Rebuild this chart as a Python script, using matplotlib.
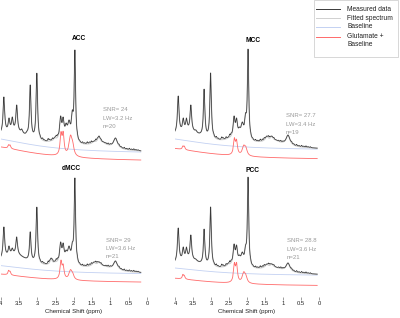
import numpy as np
import matplotlib
matplotlib.use("Agg")
import matplotlib.pyplot as plt
from matplotlib.lines import Line2D
from matplotlib.patches import Rectangle

plt.rcParams['font.family'] = ['Liberation Sans', 'DejaVu Sans']

# ---------------- data ----------------
regions = ["ACC", "MCC", "dMCC", "PCC"]
snr_text = ["SNR= 24", "SNR= 27.7", "SNR= 29", "SNR= 28.8"]
lw_text = ["LW=3.2 Hz", "LW=3.4 Hz", "LW=3.6 Hz", "LW=3.6 Hz"]
n_text = ["n=20", "n=19", "n=21", "n=21"]

# sharp peaks: position (ppm), half-width (ppm)
peak_ppm = [3.91, 3.77, 3.68, 3.56, 3.42, 3.28, 3.19, 3.01, 2.75, 2.62, 2.52,
            2.36, 2.29, 2.21, 2.13, 2.04, 1.97, 1.45, 1.31, 1.18, 0.86]
peak_hw = [0.026, 0.026, 0.026, 0.026, 0.03, 0.03, 0.024, 0.024, 0.035, 0.035, 0.035,
           0.03, 0.03, 0.035, 0.045, 0.03, 0.022, 0.05, 0.045, 0.045, 0.065]
# peak-top values (arbitrary intensity units)
acc_top = [68, 47, 48, 60, 36, 34, 80, 92, 23, 25, 28,
           49, 48, 42, 45, 55, 115, 24, 29, 23, 27]
mcc_top = [69, 47, 47, 60, 35, 33, 76, 92, 24, 26, 28,
           49, 47, 38, 43, 52, 116, 29, 29, 25, 30]
dmcc_top = [70, 51, 49, 60, 40, 38, 65, 90, 33, 39, 36,
            55, 54, 47, 51, 55, 119, 35, 35, 29, 36]
pcc_top = [69, 50, 50, 62, 38, 36, 68, 90, 30, 31, 34,
           53, 52, 42, 45, 52, 120, 33, 33, 28, 34]
meas_tops = [acc_top, mcc_top, dmcc_top, pcc_top]

# broad macromolecule humps
broad_ppm = [3.60, 2.30, 1.30]
broad_hw = [0.40, 0.35, 0.40]
acc_broad = [9, 6, 6]
mcc_broad = [9, 6, 6]
dmcc_broad = [12, 6, 6]
pcc_broad = [9, 6, 6]
broad_amps = [acc_broad, mcc_broad, dmcc_broad, pcc_broad]

# small ripples seen on the measured trace
ripple_ppm = [2.92, 2.85, 2.80, 2.70, 2.66, 2.58, 2.48, 2.44, 1.90, 1.84, 1.76,
              1.70, 1.63, 1.57, 1.52, 1.40, 1.36, 1.25, 1.12, 1.06, 1.00, 0.76,
              0.70, 0.62, 0.55, 0.48, 0.42, 0.36, 0.30, 0.24]
ripple_amp = [1.5, 2, 1, 2.5, 1.5, 2, 2.5, 2, 1.5, 1, 1.5,
              1, 2, 1.5, 2, 2, 1.5, 1.5, 1, 1.5, 1, 1.5,
              1, 1.5, 1, 1.5, 1, 1.5, 1, 1]
ripple_hw = 0.015

# glutamate peaks
glu_ppm = [3.78, 3.74, 2.35, 2.29, 2.09, 2.03]
glu_hw = [0.022, 0.022, 0.03, 0.03, 0.05, 0.04]
acc_glu = [3, 3, 20, 20, 19, 8]
mcc_glu = [3, 3, 15, 13, 9, 6]
dmcc_glu = [4, 3, 17, 12, 9, 4]
pcc_glu = [4, 3, 17, 17, 10, 5]
glu_amps = [acc_glu, mcc_glu, dmcc_glu, pcc_glu]

# baseline (offset, hump amplitude) per region; hump centre/width shared
base_offset = [11.2, 14.6, 22.4, 21.0]
base_hump = [16.5, 12.7, 10.0, 8.9]
base_centre = 4.5
base_width = 1.5
red_shift = [8.0, 9.5, 8.5, 10.3]   # vertical offset of Glu+baseline trace

legend_labels = ["Measured data", "Fitted spectrum", "Baseline", "Glutamate +\nBaseline"]
tick_vals = [4, 3.5, 3, 2.5, 2, 1.5, 1, 0.5, 0]
tick_labels = ["4", "3.5", "3", "2.5", "2", "1.5", "1", "0.5", "0"]

# ---------------- styling ----------------
C_MEAS = "#3a3a3a"
C_FIT = "#d0d0d0"
C_BASE = "#c3d1f2"
C_GLU = "#ff6a6a"
C_TXT = "#9a9a9a"

W, H = 400, 318
fig = plt.figure(figsize=(W / 100, H / 100), dpi=100)


def fx(x):
    return x / W


def fy(y):
    return 1 - y / H


def lorentz(x, p, h, w):
    return h / (1.0 + ((x - p) / w) ** 2)


def baseline(x, i):
    return base_offset[i] + lorentz(x, base_centre, base_hump[i], base_width)


def fixed_part(x, i, with_ripple=True):
    y = baseline(x, i)
    for p, h, w in zip(broad_ppm, broad_amps[i], broad_hw):
        y = y + lorentz(x, p, h, w)
    if with_ripple:
        for p, h in zip(ripple_ppm, ripple_amp):
            y = y + lorentz(x, p, h, ripple_hw)
    return y


def sharp_amplitudes(i):
    pp = np.array(peak_ppm)
    ww = np.array(peak_hw)
    M = 1.0 / (1.0 + ((pp[:, None] - pp[None, :]) / ww[None, :]) ** 2)
    rhs = np.array(meas_tops[i], float) - fixed_part(pp, i)
    a = np.linalg.solve(M, rhs)
    return np.clip(a, 0, None)


# axes placement in pixels: (left, top, right, bottom)
ax_px = [(0.6, 25, 147, 165), (175, 25, 319, 165),
         (0.6, 157, 147, 297), (175, 157, 319, 297)]
ppm_ranges = [(0.17, 3.99), (0.05, 4.07), (0.17, 3.99), (0.05, 4.07)]
title_px = [(79, 38), (252.7, 40), (71, 168), (252.7, 170)]
info_px = [(103, 110), (286, 116), (106, 240), (287, 241)]

for i, reg in enumerate(regions):
    l, t, r, b = ax_px[i]
    ax = fig.add_axes([fx(l), fy(b), (r - l) / W, (b - t) / H])
    lo, hi = ppm_ranges[i]
    x = np.linspace(lo, hi, 1200)
    base = baseline(x, i)
    amps = sharp_amplitudes(i)
    sharp = np.zeros_like(x)
    for p, h, w in zip(peak_ppm, amps, peak_hw):
        sharp = sharp + lorentz(x, p, h, w)
    meas = fixed_part(x, i, True) + sharp
    fit = fixed_part(x, i, False) + sharp
    glu = base - red_shift[i]
    for p, h, w in zip(glu_ppm, glu_amps[i], glu_hw):
        glu = glu + lorentz(x, p, h, w)

    ax.plot(x, base, color=C_BASE, lw=0.6)
    ax.plot(x, fit, color=C_FIT, lw=0.9)
    ax.plot(x, meas, color=C_MEAS, lw=0.55)
    ax.plot(x, glu, color=C_GLU, lw=0.6)
    ax.set_xlim(4, 0)
    ax.set_ylim(0, 140)
    for s in ax.spines.values():
        s.set_visible(False)
    ax.set_yticks([])
    ax.patch.set_alpha(0)
    if i >= 2:
        ax.set_xticks(tick_vals)
        ax.set_xticklabels(tick_labels)
        ax.tick_params(axis='x', direction='out', length=2, width=0.4,
                       color="#555555", pad=1.0, labelsize=4.2, labelcolor="#222222")
        fig.text(fx((l + r) / 2), fy(311), "Chemical Shift (ppm)", ha='center',
                 va='center', fontsize=4.4, color="#222222")
    else:
        ax.set_xticks([])

    tx, ty = title_px[i]
    fig.text(fx(tx), fy(ty), reg, ha='center', va='center', fontsize=4.8,
             fontweight='bold', color='black')
    ix, iy = info_px[i]
    for k, s in enumerate([snr_text[i], lw_text[i], n_text[i]]):
        fig.text(fx(ix), fy(iy + 8.2 * k), s, ha='left', va='center',
                 fontsize=4.3, color=C_TXT)

# ---------------- legend (drawn by hand) ----------------
fig.patches.append(Rectangle((fx(313.5), fy(57)), (398 - 313.5) / W, 56.5 / H,
                             transform=fig.transFigure, facecolor='white',
                             edgecolor='#c8c8c8', lw=0.5))
leg_colors = [C_MEAS, C_FIT, C_BASE, C_GLU]
leg_y = [9.3, 18.3, 26.7, 36.7]
for lab, col, yy in zip(legend_labels, leg_colors, leg_y):
    fig.lines.append(Line2D([fx(316), fx(340)], [fy(yy), fy(yy)],
                            transform=fig.transFigure, color=col, lw=0.7))
    lines = lab.split("\n")
    for k, s in enumerate(lines):
        fig.text(fx(347), fy(yy + 7.8 * k), s, ha='left', va='center',
                 fontsize=4.8, color='#222222')

fig.savefig("out.png", dpi=100)
